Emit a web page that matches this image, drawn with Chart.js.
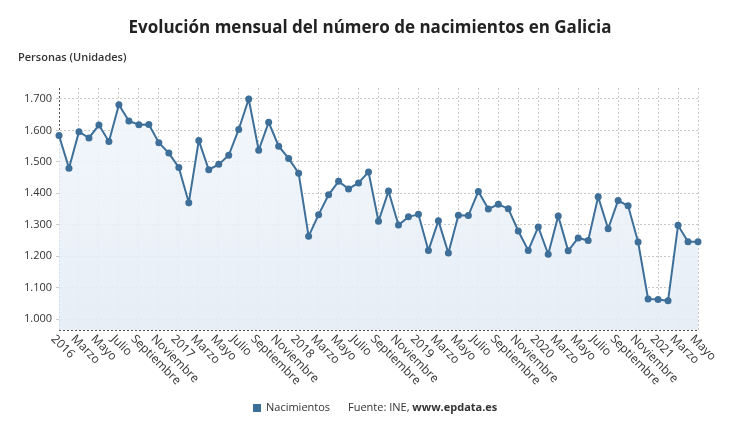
<!DOCTYPE html>
<html><head><meta charset="utf-8">
<script src="https://cdn.jsdelivr.net/npm/chart.js@4"></script>
<style>body{margin:0;background:#fff;font-family:"Open Sans",sans-serif}#w{position:relative;width:740px;height:435px}canvas{position:absolute;left:0;top:0}</style>
</head><body><div id="w"><canvas id="c" width="740" height="435"></canvas></div>
<script>
const months=["Enero","Marzo","Mayo","Julio","Septiembre","Noviembre"];
const years=[2016,2017,2018,2019,2020,2021];
const values=[1584,1480,1596,1576,1617,1565,1682,1630,1618,1619,1561,1528,
1482,1370,1568,1475,1492,1521,1603,1700,1537,1626,1550,1511,
1464,1263,1332,1395,1438,1414,1433,1468,1311,1407,1299,1325,
1333,1218,1313,1210,1330,1329,1406,1350,1365,1351,1280,1218,
1293,1206,1328,1217,1258,1250,1389,1287,1377,1360,1245,1064,
1062,1058,1298,1246,1246];
const yTicks=[1000,1100,1200,1300,1400,1500,1600,1700];
const labels=values.map((v,i)=>{const m=i%12;if(m%2)return "";return m===0?String(years[Math.floor(i/12)]):months[m/2];});
const LINE="#3d6f99";
const deco={id:"deco",afterDraw(ch){const c=ch.ctx,x=ch.scales.x;c.save();
c.fillStyle="#222";c.font="bold 17px 'Open Sans'";c.textAlign="center";c.fillText("Evolución mensual del número de nacimientos en Galicia",370,33);
c.font="600 11px 'Open Sans'";c.textAlign="left";c.fillStyle="#333";c.fillText("Personas (Unidades)",18,61);
c.font="12px 'Open Sans'";c.fillStyle="#333";
labels.forEach((l,i)=>{if(!l)return;const px=x.getPixelForValue(i);c.save();c.translate(px-6,337);c.rotate(Math.PI/4);c.textAlign="left";c.textBaseline="middle";c.fillText(l,0,0);c.restore();});
c.fillStyle=LINE;c.fillRect(253,404,8,8);c.fillStyle="#333";c.font="11px 'Open Sans'";c.textBaseline="middle";c.fillText("Nacimientos",266,408);
c.fillText("Fuente: INE, ",348,408);const w=c.measureText("Fuente: INE, ").width;c.font="bold 11px 'Open Sans'";c.fillText("www.epdata.es",348+w,408);
c.restore();}};
new Chart(document.getElementById("c"),{type:"line",
data:{labels:labels,datasets:[{data:values,borderColor:LINE,borderWidth:2,pointRadius:3.5,pointBackgroundColor:LINE,pointBorderWidth:0,tension:0,
fill:"start",backgroundColor:(ctx)=>{const a=ctx.chart.chartArea;if(!a)return "rgba(230,238,246,0.6)";const g=ctx.chart.ctx.createLinearGradient(0,a.top,0,a.bottom);g.addColorStop(0,"rgba(243,247,252,0.9)");g.addColorStop(1,"rgba(228,236,245,0.9)");return g;}}]},
options:{responsive:false,animation:false,layout:{padding:{top:88,right:42,left:0,bottom:0}},
plugins:{legend:{display:false},tooltip:{enabled:false}},
scales:{x:{offset:false,ticks:{display:false,autoSkip:false},grid:{color:(c)=>c.index%2===0?"#c8c8c8":"transparent",tickLength:0,drawTicks:false},border:{display:true,color:"#555",width:1,dash:[2,2]},afterFit(s){s.height=105;}},
y:{min:965,max:1735,afterBuildTicks(s){s.ticks=yTicks.map(v=>({value:v}));},ticks:{color:"#333",font:{size:11,family:"Open Sans"},padding:4,callback:(v)=>v.toLocaleString("de-DE")},
grid:{color:"#c8c8c8",drawTicks:true,tickLength:3},border:{display:true,color:"#555",dash:[2,2]},afterFit(s){s.width=59;}}}},
plugins:[deco,{id:"dash",beforeDraw(ch){ch.ctx.setLineDash([2,2]);}}]});
// dotted grid for both axes
Chart.defaults.scale.grid.borderDash=[2,2];
</script></body></html>
